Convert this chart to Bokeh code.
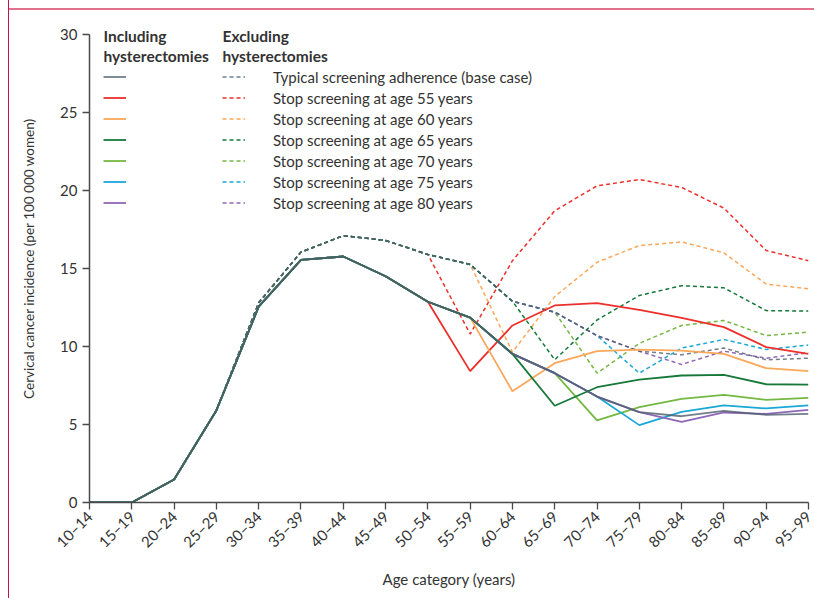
import math
from bokeh.plotting import figure
from bokeh.models import (Range1d, FixedTicker, Legend, LegendItem, Label, Div)
from bokeh.layouts import row, column
from bokeh.embed import file_html
from bokeh.resources import INLINE

# ---------------- data ----------------
age_groups = ["10–14", "15–19", "20–24", "25–29", "30–34", "35–39", "40–44",
              "45–49", "50–54", "55–59", "60–64", "65–69", "70–74", "75–79",
              "80–84", "85–89", "90–94", "95–99"]

# Including hysterectomies (solid lines)
base_incl   = [0, 0, 1.47, 5.9, 12.55, 15.55, 15.77, 14.5, 12.87, 11.85, 9.53, 8.29, 6.79, 5.79, 5.53, 5.88, 5.62, 5.68]
stop55_incl = [0, 0, 1.47, 5.9, 12.55, 15.55, 15.77, 14.5, 12.87, 8.42, 11.35, 12.63, 12.78, 12.35, 11.84, 11.24, 9.96, 9.53]
stop60_incl = [0, 0, 1.47, 5.9, 12.55, 15.55, 15.77, 14.5, 12.87, 11.85, 7.13, 8.93, 9.70, 9.80, 9.74, 9.53, 8.61, 8.42]
stop65_incl = [0, 0, 1.47, 5.9, 12.55, 15.55, 15.77, 14.5, 12.87, 11.85, 9.53, 6.20, 7.39, 7.88, 8.14, 8.18, 7.58, 7.56]
stop70_incl = [0, 0, 1.47, 5.9, 12.55, 15.55, 15.77, 14.5, 12.87, 11.85, 9.53, 8.29, 5.26, 6.11, 6.64, 6.90, 6.58, 6.71]
stop75_incl = [0, 0, 1.47, 5.9, 12.55, 15.55, 15.77, 14.5, 12.87, 11.85, 9.53, 8.29, 6.79, 4.96, 5.81, 6.22, 6.03, 6.22]
stop80_incl = [0, 0, 1.47, 5.9, 12.55, 15.55, 15.77, 14.5, 12.87, 11.85, 9.53, 8.29, 6.79, 5.79, 5.17, 5.77, 5.68, 5.94]

# Excluding hysterectomies (dashed lines)
base_excl   = [0, 0, 1.47, 5.9, 12.8, 16.05, 17.1, 16.8, 15.9, 15.26, 12.9, 12.2, 10.7, 9.7, 9.47, 9.9, 9.15, 9.25]
stop55_excl = [0, 0, 1.47, 5.9, 12.8, 16.05, 17.1, 16.8, 15.9, 10.8, 15.5, 18.7, 20.3, 20.7, 20.2, 18.87, 16.15, 15.5]
stop60_excl = [0, 0, 1.47, 5.9, 12.8, 16.05, 17.1, 16.8, 15.9, 15.26, 9.64, 13.2, 15.4, 16.47, 16.7, 16.0, 14.0, 13.7]
stop65_excl = [0, 0, 1.47, 5.9, 12.8, 16.05, 17.1, 16.8, 15.9, 15.26, 12.9, 9.15, 11.7, 13.27, 13.9, 13.76, 12.3, 12.27]
stop70_excl = [0, 0, 1.47, 5.9, 12.8, 16.05, 17.1, 16.8, 15.9, 15.26, 12.9, 12.2, 8.29, 10.2, 11.35, 11.67, 10.7, 10.92]
stop75_excl = [0, 0, 1.47, 5.9, 12.8, 16.05, 17.1, 16.8, 15.9, 15.26, 12.9, 12.2, 10.7, 8.29, 9.9, 10.45, 9.81, 10.1]
stop80_excl = [0, 0, 1.47, 5.9, 12.8, 16.05, 17.1, 16.8, 15.9, 15.26, 12.9, 12.2, 10.7, 9.7, 8.85, 9.7, 9.25, 9.6]

series_labels = ["Typical screening adherence (base case)",
                 "Stop screening at age 55 years",
                 "Stop screening at age 60 years",
                 "Stop screening at age 65 years",
                 "Stop screening at age 70 years",
                 "Stop screening at age 75 years",
                 "Stop screening at age 80 years"]
y_ticks = [0, 5, 10, 15, 20, 25, 30]

incl = [base_incl, stop55_incl, stop60_incl, stop65_incl, stop70_incl, stop75_incl, stop80_incl]
excl = [base_excl, stop55_excl, stop60_excl, stop65_excl, stop70_excl, stop75_excl, stop80_excl]
colors = ["#4d5e6b", "#ec2f2b", "#fba85a", "#16793a", "#74b843", "#19a8d8", "#8e67b8"]

FONT = "Lato"
TXT = "#333333"

x = list(range(len(age_groups)))

# frame: bottom at page y=502, y=30 at page y=34 (15.6 px per unit)
FIG_TOP = 10
MIN_TOP = 4
frame_h = 502 - (FIG_TOP + MIN_TOP)
y_end = frame_h / 15.6

p = figure(width=805, height=588, output_backend="svg", toolbar_location=None,
           x_range=Range1d(0, len(age_groups) - 1), y_range=Range1d(0, y_end),
           min_border_left=80, min_border_right=6, min_border_top=MIN_TOP,
           min_border_bottom=96)
p.outline_line_color = None
p.xgrid.visible = False
p.ygrid.visible = False
p.background_fill_color = "white"
p.border_fill_color = "white"

order = [1, 2, 4, 5, 6, 3, 0]
solid_r = {}
dash_r = {}
for i in order:
    alpha = 0.8 if i == 0 else 1.0
    dash_r[i] = p.line(x, excl[i], line_color=colors[i], line_width=1.5,
                       line_dash="4 3", line_alpha=alpha)
for i in order:
    alpha = 0.8 if i == 0 else 1.0
    solid_r[i] = p.line(x, incl[i], line_color=colors[i], line_width=1.8,
                        line_alpha=alpha)

# axes
p.xaxis.ticker = FixedTicker(ticks=x)
p.xaxis.major_label_overrides = {i: lab for i, lab in enumerate(age_groups)}
p.xaxis.major_label_orientation = math.pi / 4
p.yaxis.ticker = FixedTicker(ticks=y_ticks)
p.yaxis.bounds = (0, 30)
for ax in (p.xaxis[0], p.yaxis[0]):
    ax.axis_line_color = "#4a4a4a"
    ax.axis_line_width = 1.5
    ax.major_tick_line_color = "#4a4a4a"
    ax.major_tick_line_width = 1.3
    ax.major_tick_in = 0
    ax.major_tick_out = 7
    ax.minor_tick_line_color = None
    ax.major_label_text_font = FONT
    ax.major_label_text_color = TXT
    ax.major_label_text_font_size = "15px"
    ax.axis_label_text_font = FONT
    ax.axis_label_text_color = TXT
    ax.axis_label_text_font_size = "15px"
    ax.axis_label_text_font_style = "normal"
p.yaxis.axis_label_text_font_size = "13.5px"
p.xaxis.axis_label = "Age category (years)"
p.yaxis.axis_label = "Cervical cancer incidence (per 100 000 women)"
p.xaxis.major_label_standoff = 4
p.yaxis.major_label_standoff = 5
p.xaxis.axis_label_standoff = 10
p.yaxis.axis_label_standoff = 20

# legends
def mk_legend(items, loc):
    return Legend(items=items, location=loc, orientation="vertical",
                  glyph_width=23, glyph_height=21, label_height=21,
                  spacing=0, padding=0, margin=0, label_standoff=28,
                  border_line_alpha=0, background_fill_alpha=0,
                  label_text_font=FONT, label_text_font_size="15px",
                  label_text_color=TXT)

legA = mk_legend([LegendItem(label=" ", renderers=[solid_r[i]]) for i in range(7)], (14, 289))
legB = mk_legend([LegendItem(label=series_labels[i], renderers=[dash_r[i]]) for i in range(7)], (133, 289))
p.add_layout(legA)
p.add_layout(legB)

for xs, t1, t2 in [(14, "Including", "hysterectomies"), (133, "Excluding", "hysterectomies")]:
    for yy, t in [(467, t1), (447, t2)]:
        p.add_layout(Label(x=xs, y=yy, x_units="screen", y_units="screen", text=t,
                           text_font=FONT, text_font_style="bold",
                           text_font_size="15.5px", text_color=TXT,
                           text_baseline="middle", text_align="left"))

# page border (journal frame lines)
left_gap = Div(width=8, height=598, text="", margin=0)
left_line = Div(width=1, height=598, text="", margin=0,
                styles={"background-color": "#c4124f"})
top_gap = Div(width=805, height=8, text="", margin=0)
top_line = Div(width=805, height=2, text="", margin=0,
               styles={"background-color": "#e2708f"})
layout = row(left_gap, left_line, column(top_gap, top_line, p, spacing=0, margin=0),
             spacing=0, margin=0)

open("out.html", "w").write(file_html(layout, INLINE))
